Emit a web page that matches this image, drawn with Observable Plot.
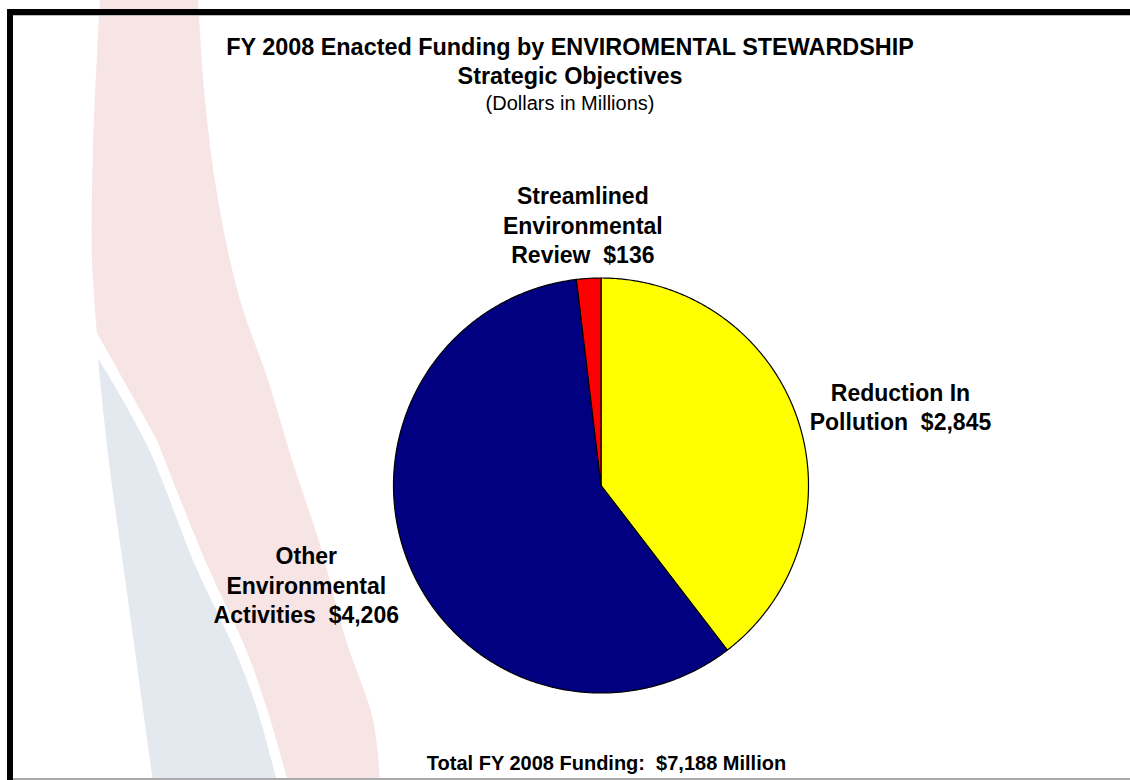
<!DOCTYPE html>
<html>
<head>
<meta charset="utf-8">
<script src="https://cdn.jsdelivr.net/npm/d3@7"></script>
<script src="https://cdn.jsdelivr.net/npm/@observablehq/plot@0.6"></script>
<style>
  html, body { margin: 0; padding: 0; background: #fff; }
  #wrap { position: relative; width: 1130px; height: 780px; overflow: hidden; background: #fff;
          font-family: "Liberation Sans", Arial, sans-serif; color: #000; }
  #decor { position: absolute; left: 0; top: 0; }
  .bar { position: absolute; background: #000; }
  .txt { position: absolute; left: 0; width: 1140px; text-align: center; white-space: pre; }
  #chart { position: absolute; left: 0; top: 125px; }
</style>
</head>
<body>
<div id="wrap">
  <svg id="decor" width="1130" height="780"></svg>
  <div class="bar" style="left:8px;top:9px;width:1122px;height:6px;"></div>
  <div class="bar" style="left:7px;top:9px;width:6px;height:771px;"></div>
  <div style="position:absolute;left:13px;top:15px;width:1117px;height:1px;background:#bbb;"></div>
  <div style="position:absolute;left:13px;top:778px;width:1117px;height:2px;background:#aaa;"></div>
  <div class="txt" id="t1" style="top:36px;font-size:23.4px;line-height:23px;font-weight:bold;"></div>
  <div class="txt" id="t2" style="top:65px;font-size:23.4px;line-height:23px;font-weight:bold;"></div>
  <div class="txt" id="t3" style="top:93px;font-size:20px;line-height:20px;"></div>
  <div id="chart"></div>
  <div class="txt" id="cap" style="left:0;width:1213px;top:753px;font-size:20px;line-height:20px;font-weight:bold;"></div>
</div>
<script>
// ---- data ----
const categories = ["Reduction In Pollution", "Other Environmental Activities", "Streamlined Environmental Review"];
const values = [2845, 4206, 136];
const labels = ["Reduction In\nPollution  $2,845", "Other\nEnvironmental\nActivities  $4,206", "Streamlined\nEnvironmental\nReview  $136"];
const colors = ["#ffff00", "#000080", "#ff0000"];
const titleLine1 = "FY 2008 Enacted Funding by ENVIROMENTAL STEWARDSHIP";
const titleLine2 = "Strategic Objectives";
const subtitle = "(Dollars in Millions)";
const caption = "Total FY 2008 Funding:  $7,188 Million";

document.getElementById("t1").textContent = titleLine1;
document.getElementById("t2").textContent = titleLine2;
document.getElementById("t3").textContent = subtitle;
document.getElementById("cap").textContent = caption;

// ---- decorative background swoosh ----
(function () {
  const svg = d3.select("#decor");
  const line = d3.line().curve(d3.curveCatmullRom);
  const seg = (pts) => line(pts).replace(/^M/, "L");
  const pinkRight = [[198,-2],[205,100],[218,200],[240,300],[268,380],[292,460],[320,545],[346,640],[373,720],[380,782]];
  const pinkLower = [[288,782],[268,712],[247,652],[205,560],[157,440]];
  const pinkLeft = [[97,333],[92,260],[93,150],[100,-2]];
  const pinkPath = line(pinkRight) + seg(pinkLower) + "L97,333" + seg(pinkLeft) + "Z";
  svg.append("path").attr("d", pinkPath).attr("fill", "#f7e4e5");
  const blueRight = [[98,358],[147,445],[195,565],[237,655],[258,712],[277,782]];
  const blueLeft = [[153,782],[128,600],[110,470],[100,380],[98,358]];
  const bluePath = line(blueRight) + seg(blueLeft) + "Z";
  svg.append("path").attr("d", bluePath).attr("fill", "#e4e9f0");
})();

// ---- pie geometry via d3.pie ----
const W = 1130, H = 620, mL = 393, mR = 322, mT = 152.5, mB = 52.5;
const pxPerUnit = (W - mL - mR) / 2;
const arcs = d3.pie().sort(null).value(d => d)(values);

const slicePts = [];
arcs.forEach((a, i) => {
  const cat = categories[i];
  slicePts.push({cat, x: 0, y: 0});
  const n = Math.max(2, Math.ceil((a.endAngle - a.startAngle) / (Math.PI / 360)));
  for (let k = 0; k <= n; k++) {
    const t = a.startAngle + (a.endAngle - a.startAngle) * k / n;
    slicePts.push({cat, x: Math.sin(t), y: Math.cos(t)});
  }
  slicePts.push({cat, x: 0, y: 0});
});

// ---- label placement (outside end, centred on the slice mid-angle) ----
const fontSize = 23, lineHeight = 1.28;
const ctx = document.createElement("canvas").getContext("2d");
ctx.font = `bold ${fontSize}px "Liberation Sans", Arial, sans-serif`;
const gapX = 18, gapY = 10;
const labelData = arcs.map((a, i) => {
  const mid = (a.startAngle + a.endAngle) / 2;
  const ux = Math.sin(mid), uy = -Math.cos(mid);
  const lines = labels[i].split("\n");
  const hw = d3.max(lines, l => ctx.measureText(l).width) / 2;
  const hh = lines.length * fontSize * lineHeight / 2;
  const ox = (pxPerUnit + gapX + hw) * ux;
  const oy = (pxPerUnit + gapY + hh) * uy;
  return {text: labels[i], x: ox / pxPerUnit, y: -oy / pxPerUnit};
});

const chart = Plot.plot({
  width: W, height: H,
  marginLeft: mL, marginRight: mR, marginTop: mT, marginBottom: mB,
  x: {domain: [-1, 1], axis: null},
  y: {domain: [-1, 1], axis: null},
  color: {domain: categories, range: colors},
  style: {background: "transparent", fontFamily: "'Liberation Sans', Arial, sans-serif", overflow: "visible"},
  marks: [
    Plot.line(slicePts, {x: "x", y: "y", z: "cat", fill: "cat", stroke: "#000", strokeWidth: 1.2, strokeLinejoin: "round"}),
    Plot.text(labelData, {x: "x", y: "y", text: "text", fontSize, fontWeight: "bold", lineHeight, lineAnchor: "middle", textAnchor: "middle", fill: "#000"})
  ]
});
document.getElementById("chart").appendChild(chart);
</script>
</body>
</html>
